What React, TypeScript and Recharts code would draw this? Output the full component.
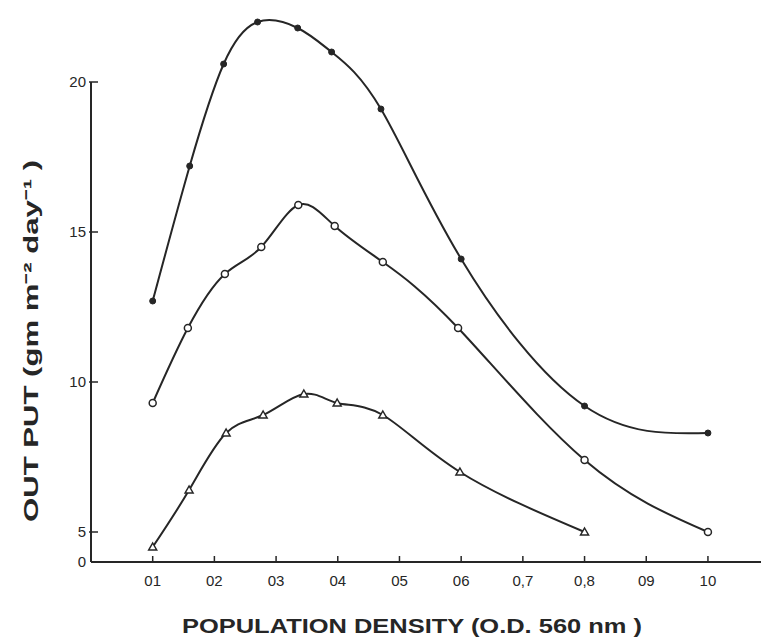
import { LineChart, Line, XAxis, YAxis, ReferenceLine } from "recharts";

// population density (O.D. 560 nm) for each curve
const xTop = [0.1, 0.16, 0.215, 0.27, 0.335, 0.39, 0.47, 0.6, 0.8, 1.0];
const yTop = [12.7, 17.2, 20.6, 22.0, 21.8, 21.0, 19.1, 14.1, 9.2, 8.3];

const xMid = [0.1, 0.157, 0.217, 0.276, 0.336, 0.395, 0.473, 0.595, 0.8, 1.0];
const yMid = [9.3, 11.8, 13.6, 14.5, 15.9, 15.2, 14.0, 11.8, 7.4, 5.0];

const xLow = [0.1, 0.159, 0.219, 0.279, 0.345, 0.399, 0.473, 0.598, 0.8];
const yLow = [4.5, 6.4, 8.3, 8.9, 9.6, 9.3, 8.9, 7.0, 5.0];

const xTicks = [0.1, 0.2, 0.3, 0.4, 0.5, 0.6, 0.7, 0.8, 0.9, 1.0];
const xTickLabels = ["01", "02", "03", "04", "05", "06", "0,7", "0,8", "09", "10"];
// axis is broken below 5: the x axis sits at the "0" mark
const yTicks = [4, 5, 10, 15, 20];
const yTickLabels = ["0", "5", "10", "15", "20"];

const INK = "#262626";
const FONT = "'Liberation Sans', Arial, sans-serif";

const toRows = (xs: number[], ys: number[]) => xs.map((x, i) => ({ x, y: ys[i] }));

function XTick({ x, y, payload }: any) {
  const i = xTicks.indexOf(payload.value);
  return (
    <g>
      <line x1={x} x2={x} y1={y} y2={y - 6} stroke={INK} strokeWidth={1.5} />
      <text x={x} y={y + 24} textAnchor="middle" fontSize={15} fill={INK} fontFamily={FONT}>
        {xTickLabels[i]}
      </text>
    </g>
  );
}

function YTick({ x, y, payload }: any) {
  const i = yTicks.indexOf(payload.value);
  return (
    <g>
      {i > 0 && <line x1={x - 2} x2={x + 7} y1={y} y2={y} stroke={INK} strokeWidth={1.5} />}
      <text x={x - 5} y={y + 5} textAnchor="end" fontSize={15} fill={INK} fontFamily={FONT}>
        {yTickLabels[i]}
      </text>
    </g>
  );
}

const triangle = (p: any) => (
  <path
    key={`tri-${p.index}`}
    d={`M${p.cx},${p.cy - 4} L${p.cx + 4},${p.cy + 3} L${p.cx - 4},${p.cy + 3} Z`}
    fill="#fff"
    stroke={INK}
    strokeWidth={1.5}
  />
);

export default function App() {
  return (
    <div style={{ position: "absolute", left: 0, top: 0, background: "#fff" }}>
      <LineChart width={761} height={637} margin={{ top: 10, right: 0, bottom: 0, left: 0 }}>
        <XAxis
          type="number"
          dataKey="x"
          domain={[0, 1.086]}
          ticks={xTicks}
          tick={<XTick />}
          tickLine={false}
          tickSize={0}
          tickMargin={0}
          height={75}
          axisLine={{ stroke: INK, strokeWidth: 2 }}
          allowDataOverflow
          label={{
            content: () => (
              <text
                x={412}
                y={633}
                textAnchor="middle"
                fontSize={21}
                fontWeight="bold"
                fill={INK}
                fontFamily={FONT}
                textLength={460}
                lengthAdjust="spacingAndGlyphs"
              >
                POPULATION DENSITY (O.D. 560 nm )
              </text>
            ),
          }}
        />
        <YAxis
          type="number"
          dataKey="y"
          domain={[4, 22.4]}
          ticks={yTicks}
          tick={<YTick />}
          tickLine={false}
          tickSize={0}
          tickMargin={0}
          width={91}
          axisLine={false}
          allowDataOverflow
          label={{
            content: () => (
              <text
                x={38}
                y={341}
                transform="rotate(-90 38 341)"
                textAnchor="middle"
                fontSize={20}
                fontWeight="bold"
                fill={INK}
                fontFamily={FONT}
                textLength={362}
                lengthAdjust="spacingAndGlyphs"
              >
                OUT PUT (gm m⁻² day⁻¹ )
              </text>
            ),
          }}
        />
        <ReferenceLine
          segment={[
            { x: 0, y: 4 },
            { x: 0, y: 20 },
          ]}
          stroke={INK}
          strokeWidth={2}
        />
        <Line
          data={toRows(xTop, yTop)}
          dataKey="y"
          type="natural"
          stroke={INK}
          strokeWidth={2}
          dot={{ r: 3, fill: INK, stroke: INK, strokeWidth: 1 }}
          isAnimationActive={false}
        />
        <Line
          data={toRows(xMid, yMid)}
          dataKey="y"
          type="natural"
          stroke={INK}
          strokeWidth={2}
          dot={{ r: 3.5, fill: "#fff", stroke: INK, strokeWidth: 1.5 }}
          isAnimationActive={false}
        />
        <Line
          data={toRows(xLow, yLow)}
          dataKey="y"
          type="natural"
          stroke={INK}
          strokeWidth={2}
          dot={triangle}
          isAnimationActive={false}
        />
      </LineChart>
    </div>
  );
}
